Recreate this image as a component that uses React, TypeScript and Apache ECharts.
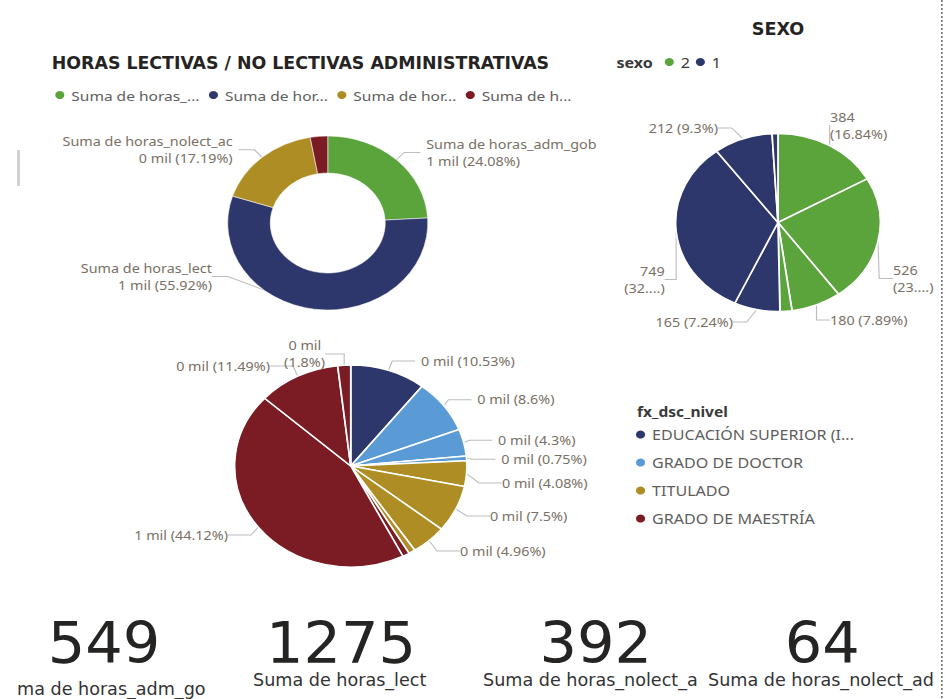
import React, { useEffect, useRef } from "react";
import * as echarts from "echarts";

// ---------------- data ----------------
const measureNames = [
  "Suma de horas_adm_gob",
  "Suma de horas_lect",
  "Suma de horas_nolect_ac",
  "Suma de horas_nolect_ad",
];
const measureLegendLabels = ["Suma de horas_...", "Suma de hor...", "Suma de hor...", "Suma de h..."];
const measureValues = [549, 1275, 392, 64];
const donutHiddenLabels = [3];

const sexoCategories = ["2", "1"];
const sexoSliceSexo = ["2", "2", "2", "2", "1", "1", "1", "1"];
const sexoSliceValues = [384, 526, 180, 43, 165, 749, 212, 21];
const sexoHiddenLabels = [3, 7];

const nivelCategories = ["EDUCACIÓN SUPERIOR (I...", "GRADO DE DOCTOR", "TITULADO", "GRADO DE MAESTRÍA"];
const nivelSliceNivel = [0, 1, 1, 1, 2, 2, 2, 2, 3, 3, 3, 3];
const nivelSliceValues = [240, 196, 98, 17, 93, 171, 113, 21, 22, 1006, 262, 41];
const nivelHiddenLabels = [7, 8];
const nivelWrappedLabels = [11];

const cardValues = measureValues;
const cardLabels = ["ma de horas_adm_go", "Suma de horas_lect", "Suma de horas_nolect_a", "Suma de horas_nolect_ad"];

// ---------------- layout / styles ----------------
const STRETCH = 1.15;
const PAGE_W = 950;
const PAGE_H = 699;
const NATIVE_W = PAGE_W / STRETCH;

// label anchor positions (seriesIndex-dataIndex) mimicking Power BI's label placement
const labelAnchors: Record<string, [number, number]> = {
  "0-1": [184.3, 276.5],
  "1-0": [721.7, 125.5],
  "1-1": [776.5, 278.5],
  "1-2": [721.7, 320],
  "1-4": [637.4, 322],
  "1-5": [578, 279.5],
  "1-6": [624.3, 128],
  "2-4": [436.5, 483],
  "2-5": [426, 516],
  "2-6": [400, 551],
  "2-9": [198.3, 535],
  "2-10": [234.8, 366],
  "2-11": [282.6, 354],
};

const measureColors = ["#5BA33B", "#2E376B", "#AD8D24", "#7B1B24"];
const sexoColors: Record<string, string> = { "2": "#5BA33B", "1": "#2E376B" };
const nivelColors = ["#2E376B", "#5B9BD5", "#AD8D24", "#7B1B24"];

const PBI_FONT = "'Segoe UI', 'Noto Sans', 'Open Sans', sans-serif";
const DIN_FONT = "'DejaVu Sans Condensed', 'Liberation Sans', sans-serif";
const LABEL_COLOR = "#7a7065";
const LEGEND_COLOR = "#605E5C";
const LINE_COLOR = "#bdbdbd";

const sum = (a: number[]) => a.reduce((s, v) => s + v, 0);
const pct = (v: number, total: number) => +((v / total) * 100).toFixed(2);
const mil = (v: number) => Math.round(v / 1000);

const donutTotal = sum(measureValues);
const sexoTotal = sum(sexoSliceValues);
const nivelTotal = sum(nivelSliceValues);

const baseLabel = {
  color: LABEL_COLOR,
  fontSize: 12.5,
  lineHeight: 17,
  fontFamily: PBI_FONT,
};

const labelLayout = (p: any) => {
  const a = labelAnchors[`${p.seriesIndex}-${p.dataIndex}`];
  return a ? { x: a[0], y: a[1] } : {};
};

function buildOption(): any {
  const donutData = measureNames.map((n, i) => {
    const show = !donutHiddenLabels.includes(i);
    return {
      name: n,
      value: measureValues[i],
      itemStyle: { color: measureColors[i] },
      label: { show },
      labelLine: { show },
    };
  });

  const sexoData = sexoSliceValues.map((v, i) => {
    const show = !sexoHiddenLabels.includes(i);
    return {
      name: sexoSliceSexo[i],
      value: v,
      itemStyle: { color: sexoColors[sexoSliceSexo[i]] },
      label: { show },
      labelLine: { show },
    };
  });

  const nivelData = nivelSliceValues.map((v, i) => {
    const show = !nivelHiddenLabels.includes(i);
    const wrap = nivelWrappedLabels.includes(i);
    return {
      name: nivelCategories[nivelSliceNivel[i]],
      value: v,
      itemStyle: { color: nivelColors[nivelSliceNivel[i]] },
      label: wrap ? { show, width: 40, overflow: "break", align: "right" } : { show },
      labelLine: { show },
    };
  });

  const cardXs = [14.8, 220, 420, 615.7];
  const cardLabelYs = [689, 680, 680, 680];
  const cardNumXs = [90.4, 296.5, 518, 715];

  const graphics: any[] = [
    {
      type: "text",
      x: 45,
      y: 63,
      style: {
        text: "HORAS LECTIVAS / NO LECTIVAS ADMINISTRATIVAS",
        fontFamily: DIN_FONT,
        fontWeight: "bold",
        fontSize: 16.8,
        fill: "#252423",
        verticalAlign: "middle",
      },
    },
    {
      type: "text",
      x: 676.5,
      y: 29,
      style: {
        text: "SEXO",
        fontFamily: DIN_FONT,
        fontWeight: "bold",
        fontSize: 17,
        fill: "#252423",
        align: "center",
        verticalAlign: "middle",
      },
    },
    {
      type: "text",
      x: 536,
      y: 62,
      style: {
        text: "sexo",
        fontFamily: PBI_FONT,
        fontWeight: "bold",
        fontSize: 14,
        fill: "#3a3a3a",
        verticalAlign: "middle",
      },
    },
    {
      type: "text",
      x: 554,
      y: 411,
      style: {
        text: "fx_dsc_nivel",
        fontFamily: PBI_FONT,
        fontWeight: "bold",
        fontSize: 13.5,
        fill: "#3a3a3a",
        verticalAlign: "middle",
      },
    },
    {
      type: "rect",
      shape: { x: 14.8, y: 150, width: 2.6, height: 36 },
      style: { fill: "#d2d2d2" },
    },
    {
      type: "line",
      shape: { x1: 819, y1: 0, x2: 819, y2: PAGE_H },
      style: { stroke: "#666", lineWidth: 1.3, lineDash: [2, 2] },
    },
  ];

  cardValues.forEach((v, i) => {
    graphics.push({
      type: "text",
      x: cardNumXs[i],
      y: 643,
      style: {
        text: String(v),
        fontFamily: DIN_FONT,
        fontSize: 57,
        fill: "#252423",
        align: "center",
        verticalAlign: "middle",
      },
    });
    graphics.push({
      type: "text",
      x: cardXs[i],
      y: cardLabelYs[i],
      style: {
        text: cardLabels[i],
        fontFamily: DIN_FONT,
        fontSize: 17,
        fill: "#333",
        verticalAlign: "middle",
      },
    });
  });

  const legendCommon = {
    icon: "circle",
    itemWidth: 10,
    itemHeight: 10,
    textStyle: { color: LEGEND_COLOR, fontFamily: PBI_FONT, fontSize: 13.5 },
    selectedMode: false,
  };

  return {
    animation: false,
    backgroundColor: "#fff",
    legend: [
      {
        ...legendCommon,
        data: measureNames,
        left: 41,
        top: 83,
        itemGap: 6,
        formatter: (name: string) => measureLegendLabels[measureNames.indexOf(name)],
      },
      {
        ...legendCommon,
        data: sexoCategories,
        left: 571,
        top: 50,
        itemGap: 3,
        textStyle: { ...legendCommon.textStyle, fontSize: 14, color: "#3a3a3a" },
      },
      {
        ...legendCommon,
        data: nivelCategories,
        orient: "vertical",
        left: 546,
        top: 421,
        itemGap: 11,
        textStyle: { ...legendCommon.textStyle, fontSize: 14, lineHeight: 17 },
      },
    ],
    graphic: graphics,
    series: [
      {
        type: "pie",
        name: "horas",
        center: [285, 223],
        radius: [50, 87],
        startAngle: 90,
        data: donutData,
        itemStyle: { borderColor: "#fff", borderWidth: 0.5 },
        label: {
          ...baseLabel,
          formatter: (p: any) => `${p.name}\n${mil(p.value)} mil (${pct(p.value, donutTotal)}%)`,
        },
        labelLine: { length: 10, length2: 14, lineStyle: { color: LINE_COLOR, width: 1 } },
        labelLayout,
      },
      {
        type: "pie",
        name: "sexo",
        center: [676.5, 222.5],
        radius: [0, 89],
        startAngle: 90,
        data: sexoData,
        itemStyle: { borderColor: "#fff", borderWidth: 1.5 },
        label: {
          ...baseLabel,
          width: 80,
          overflow: "none",
          formatter: (p: any) => {
            const pc = pct(p.value, sexoTotal);
            if (pc >= 20) return `${p.value}\n(${Math.floor(pc)}....)`;
            if (pc >= 10) return `${p.value}\n(${pc}%)`;
            return `${p.value} (${pc}%)`;
          },
        },
        labelLine: { length: 8, length2: 12, lineStyle: { color: LINE_COLOR, width: 1 } },
        labelLayout,
      },
      {
        type: "pie",
        name: "nivel",
        center: [305, 466],
        radius: [0, 101],
        startAngle: 90,
        data: nivelData,
        itemStyle: { borderColor: "#fff", borderWidth: 1.5 },
        label: {
          ...baseLabel,
          formatter: (p: any) => `${mil(p.value)} mil (${pct(p.value, nivelTotal)}%)`,
        },
        labelLine: { length: 10, length2: 20, lineStyle: { color: LINE_COLOR, width: 1 } },
        labelLayout,
      },
    ],
  };
}

export default function App() {
  const ref = useRef<HTMLDivElement>(null);
  useEffect(() => {
    document.body.style.margin = "0";
    if (!ref.current) return;
    const chart = echarts.init(ref.current, null, { renderer: "svg", width: NATIVE_W, height: PAGE_H });
    chart.setOption(buildOption());
    return () => chart.dispose();
  }, []);
  return (
    <div style={{ width: PAGE_W, height: PAGE_H, overflow: "hidden", position: "relative", background: "#fff" }}>
      <div
        ref={ref}
        style={{
          width: NATIVE_W,
          height: PAGE_H,
          transform: `scaleX(${STRETCH})`,
          transformOrigin: "0 0",
        }}
      />
    </div>
  );
}
